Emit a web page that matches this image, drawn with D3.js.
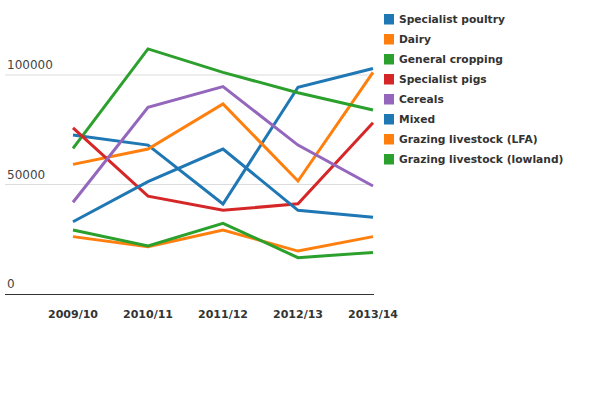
<!DOCTYPE html>
<html>
<head>
<meta charset="utf-8">
<script src="https://cdn.jsdelivr.net/npm/d3@7"></script>
<style>
  body { margin: 0; background: #fff; }
  svg { display: block; font-family: "DejaVu Sans", sans-serif; }
</style>
</head>
<body>
<svg id="chart" width="600" height="400"></svg>
<script>
// data
const years = ["2009/10", "2010/11", "2011/12", "2012/13", "2013/14"];
const seriesNames = [
  "Specialist poultry", "Dairy", "General cropping", "Specialist pigs",
  "Cereals", "Mixed", "Grazing livestock (LFA)", "Grazing livestock (lowland)"
];
const poultry   = [72600, 68000, 41100, 94400, 103000];
const dairy     = [59200, 66200, 86800, 51600, 101200];
const cropping  = [66500, 111900, 101200, 91900, 84000];
const pigs      = [75900, 44700, 38200, 41200, 78200];
const cereals   = [41900, 85200, 94700, 68000, 49300];
const mixed     = [33000, 51300, 66200, 38200, 35000];
const lfa       = [26200, 21600, 29200, 19600, 26200];
const lowland   = [29200, 21900, 32300, 16600, 19000];
const yTicks    = [0, 50000, 100000];

const seriesValues = [poultry, dairy, cropping, pigs, cereals, mixed, lfa, lowland];
const colors = ["#1f77b4", "#ff7f0e", "#2ca02c", "#d62728", "#9467bd", "#1f77b4", "#ff7f0e", "#2ca02c"];

const svg = d3.select("#chart");

const x = d3.scalePoint().domain(years).range([73, 373]);
const y = d3.scaleLinear().domain([0, 100000]).range([294, 75]);

// grid + tick labels
const grid = svg.append("g");
grid.selectAll("line")
  .data(yTicks.filter(d => d > 0))
  .join("line")
  .attr("x1", 5).attr("x2", 373)
  .attr("y1", d => y(d)).attr("y2", d => y(d))
  .attr("stroke", "#dcdcdc")
  .attr("stroke-width", 1);

grid.selectAll("text")
  .data(yTicks)
  .join("text")
  .attr("x", 7)
  .attr("y", d => y(d) - 6)
  .attr("font-size", "12px")
  .attr("fill", "#444")
  .text(d => d);

// x axis
svg.append("line")
  .attr("x1", 5).attr("x2", 374)
  .attr("y1", 294.5).attr("y2", 294.5)
  .attr("stroke", "#333")
  .attr("stroke-width", 1);

svg.append("g").selectAll("text")
  .data(years)
  .join("text")
  .attr("x", d => x(d))
  .attr("y", 318)
  .attr("text-anchor", "middle")
  .attr("font-size", "11px")
  .attr("font-weight", "bold")
  .attr("fill", "#333")
  .text(d => d);

// lines
const line = d3.line()
  .x((d, i) => x(years[i]))
  .y(d => y(d));

svg.append("g").selectAll("path")
  .data(seriesValues)
  .join("path")
  .attr("d", line)
  .attr("fill", "none")
  .attr("stroke", (d, i) => colors[i])
  .attr("stroke-width", 3);

// legend
const legend = svg.append("g").selectAll("g")
  .data(seriesNames)
  .join("g")
  .attr("transform", (d, i) => `translate(384,${14 + i * 20})`);

legend.append("rect")
  .attr("width", 10).attr("height", 10.5)
  .attr("fill", (d, i) => colors[i]);

legend.append("text")
  .attr("x", 15).attr("y", 9)
  .attr("font-size", "10.7px")
  .attr("font-weight", "bold")
  .attr("fill", "#333")
  .text(d => d);
</script>
</body>
</html>
